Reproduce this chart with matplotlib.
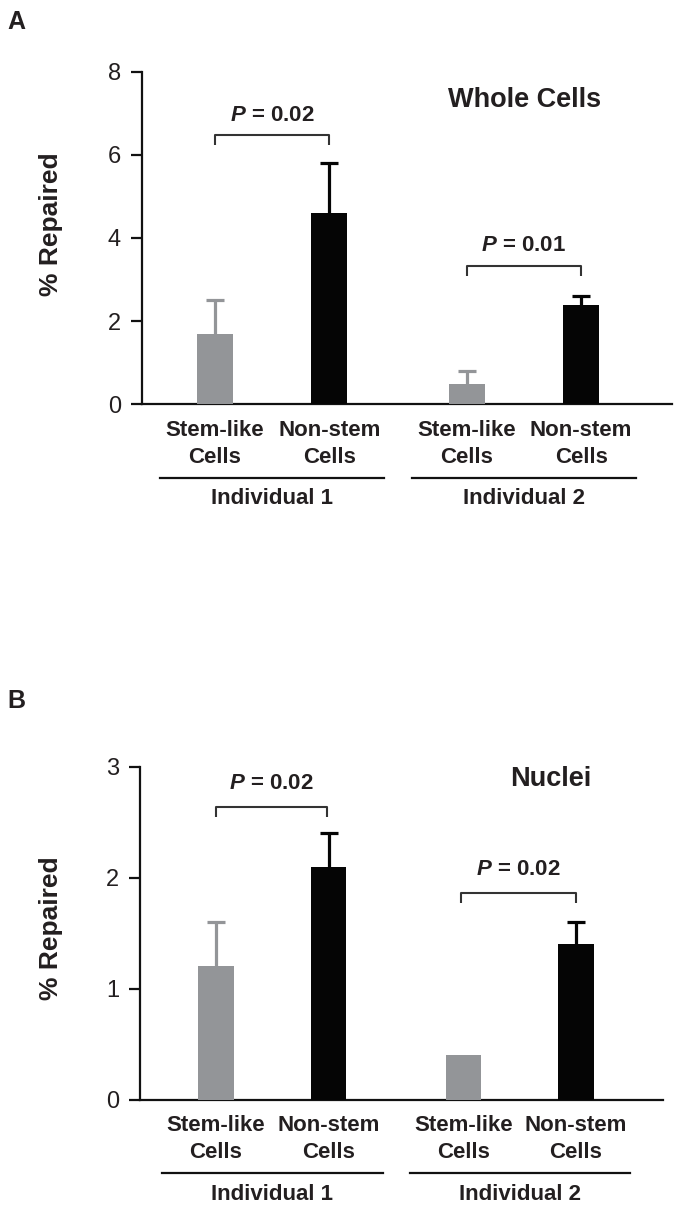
import matplotlib
matplotlib.use("Agg")
import matplotlib.pyplot as plt
from matplotlib.transforms import blended_transform_factory

plt.rcParams['font.family'] = ['Liberation Sans', 'DejaVu Sans']
plt.rcParams['mathtext.fontset'] = 'custom'
plt.rcParams['mathtext.bfit'] = 'Liberation Sans:italic:bold'
plt.rcParams['mathtext.rm'] = 'Liberation Sans:bold'

# ---------------- data ----------------
cat_top = ["Stem-like", "Non-stem", "Stem-like", "Non-stem"]
cat_bottom = ["Cells", "Cells", "Cells", "Cells"]
groups = ["Individual 1", "Individual 2"]
x_pos = [0, 1, 2.2, 3.2]
bar_colors = ["#939598", "#050505", "#939598", "#050505"]

whole_mean = [1.7, 4.6, 0.5, 2.4]
whole_err = [0.8, 1.2, 0.3, 0.2]
whole_p = ["0.02", "0.01"]

nuclei_mean = [1.2, 2.1, 0.4, 1.4]
nuclei_err = [0.4, 0.3, 0.0, 0.2]
nuclei_p = ["0.02", "0.02"]

TXT = "#231f20"
W, H = 677, 1217
fig = plt.figure(figsize=(W / 100, H / 100), dpi=100)


def px_axes(left, right, top, bottom):
    return fig.add_axes([left / W, 1 - bottom / H, (right - left) / W, (bottom - top) / H])


def draw_panel(ax, means, errs, pvals, ylim, yticks, xlim, title, title_xy,
               brackets, ylabel_xy, ax_h_px):
    ax.set_xlim(*xlim)
    ax.set_ylim(*ylim)
    for x, m, e, c in zip(x_pos, means, errs, bar_colors):
        ax.bar(x, m, width=0.315, color=c, zorder=3, clip_on=False)
        if e > 0:
            eb = ax.errorbar(x, m, yerr=[[0], [e]], fmt='none', ecolor=c,
                             elinewidth=2.3, capsize=6.5, capthick=2.3, zorder=2,
                             clip_on=False)
            caps = eb[1]
            if len(caps) > 1:
                caps[0].set_visible(False)
    for s in ['top', 'right']:
        ax.spines[s].set_visible(False)
    for s in ['left', 'bottom']:
        ax.spines[s].set_linewidth(1.6)
        ax.spines[s].set_color("#111111")
    ax.set_xticks([])
    ax.set_yticks(yticks)
    ax.set_yticklabels([str(t) for t in yticks])
    ax.tick_params(axis='y', length=8, width=1.6, pad=7, labelsize=17,
                   labelcolor=TXT, color="#111111")
    ax.set_ylabel("% Repaired", fontsize=19, fontweight='bold', color=TXT)
    ax.yaxis.set_label_coords(*ylabel_xy)
    ax.text(title_xy[0], title_xy[1], title, fontsize=19.5, fontweight='bold',
            color=TXT, ha='center', va='center')

    # significance brackets
    for (x0, x1, ytop, leg, ytxt), p in zip(brackets, pvals):
        ax.plot([x0, x0, x1, x1], [ytop - leg, ytop, ytop, ytop - leg],
                color="#333333", lw=1.5, clip_on=False, solid_capstyle='butt')
        ax.text((x0 + x1) / 2, ytxt, r"$\mathbfit{P}$ = " + p, fontsize=16,
                fontweight='bold', color=TXT, ha='center', va='center')

    # category labels
    for x, t1, t2 in zip(x_pos, cat_top, cat_bottom):
        ax.annotate(t1, xy=(x, 0), xycoords=('data', 'axes fraction'),
                    xytext=(0, -26 * 0.72), textcoords='offset points',
                    ha='center', va='center', fontsize=16, fontweight='bold',
                    color=TXT, annotation_clip=False)
        ax.annotate(t2, xy=(x, 0), xycoords=('data', 'axes fraction'),
                    xytext=(0, -53 * 0.72), textcoords='offset points',
                    ha='center', va='center', fontsize=16, fontweight='bold',
                    color=TXT, annotation_clip=False)

    # group lines and labels
    trans = blended_transform_factory(ax.transData, ax.transAxes)
    centers = [(x_pos[0] + x_pos[1]) / 2, (x_pos[2] + x_pos[3]) / 2]
    yl = -73.5 / ax_h_px
    for c, g in zip(centers, groups):
        ax.plot([c - 0.98, c + 0.98], [yl, yl], transform=trans, color="#111111",
                lw=1.6, clip_on=False)
        ax.annotate(g, xy=(c, 0), xycoords=('data', 'axes fraction'),
                    xytext=(0, -94.5 * 0.72), textcoords='offset points',
                    ha='center', va='center', fontsize=16, fontweight='bold',
                    color=TXT, annotation_clip=False)


# Panel A
axA = px_axes(141.7, 671.7, 71.7, 404.3)
draw_panel(axA, whole_mean, whole_err, whole_p, (0, 8), [0, 2, 4, 6, 8],
           (-0.6376, 3.991), "Whole Cells", (2.71, 7.33),
           [(0, 1, 6.47, 0.24, 6.95), (2.2, 3.2, 3.32, 0.24, 3.83)],
           (-0.148, 0.542), 332.6)

# Panel B
axB = px_axes(140, 663, 766.7, 1099.5)
draw_panel(axB, nuclei_mean, nuclei_err, nuclei_p, (0, 3), [0, 1, 2, 3],
           (-0.676, 3.973), "Nuclei", (2.975, 2.89),
           [(0, 0.99, 2.635, 0.085, 2.85), (2.18, 3.2, 1.865, 0.09, 2.07)],
           (-0.147, 0.515), 332.8)

fig.text(16.5 / W, 1 - 22 / H, "A", fontsize=18, fontweight='bold', color=TXT,
         ha='center', va='center')
fig.text(16 / W, 1 - 701 / H, "B", fontsize=18, fontweight='bold', color=TXT,
         ha='center', va='center')

fig.savefig("out.png", dpi=100)
